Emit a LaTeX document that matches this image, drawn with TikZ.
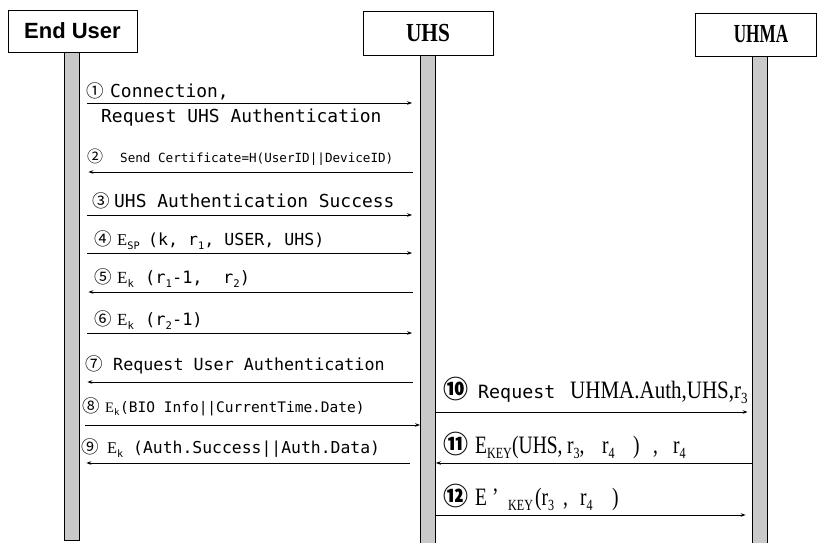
\documentclass[tikz,border=0pt]{standalone}
\usepackage{fontspec}
\usepackage{graphicx}
\setmainfont{Liberation Serif}
\setsansfont{Liberation Sans}
\setmonofont{DejaVu Sans Mono}
\newfontfamily\cjk{Noto Sans CJK KR}
\usetikzlibrary{arrows.meta}

\newcommand\fs[1]{\fontsize{#1}{#1}\selectfont}
% circled step numbers (small and large)
\newcommand\cn[1]{{\cjk\fs{17.5}#1}}
\newcommand\cnB[1]{{\cjk\bfseries\fs{25}#1}}
% fixed-width slot, so each piece starts at a set place
\newcommand\mb[2]{\makebox[#1pt][l]{#2}}
% lowered small index
\newcommand\idx[1]{\raisebox{-0.45ex}{\scalebox{0.62}{#1}}}
% serif E with an index
\newcommand\Enc[1]{{\rmfamily E}\idx{#1}}
% narrow serif pieces
\newcommand\cond[1]{\scalebox{0.78}[1]{#1}}

\begin{document}
\begin{tikzpicture}[x=1pt,y=-1pt,
  actor/.style={draw, line width=0.8pt, fill=white, inner sep=0pt},
  lifebar/.style={draw, line width=0.8pt, fill=black!21, anchor=north,
    minimum width=15pt, inner sep=0pt},
  msg/.style={line width=0.8pt, -{Stealth[length=5pt,width=3.6pt]}},
  lbl/.style={anchor=base west, inner sep=0pt, font=\ttfamily},
  rlbl/.style={anchor=base west, inner sep=0pt, font=\rmfamily\fs{25}}]
\useasboundingbox (0,0) rectangle (817,543);

% lifelines
\node[lifebar, minimum height=488pt] (eubar) at (71.5,52) {};
\node[lifebar, minimum height=488pt] (uhsbar) at (428,55) {};
\node[lifebar, minimum height=490pt] (uhmabar) at (759.5,56) {};

% participants
\node[actor, minimum width=129pt, minimum height=42pt] (eu) at (72.5,31)
  {\sffamily\bfseries\fs{22}End User};
\node[actor, minimum width=130pt, minimum height=44pt] (uhs) at (428,33)
  {\bfseries\fs{26}\scalebox{0.82}[1]{UHS}};
\node[actor, minimum width=121pt, minimum height=43pt] (uhma) at (755.5,34.5)
  {\hspace{11pt}\bfseries\fs{26}\scalebox{0.66}[1]{UHMA}};

% message rows
\coordinate (r1) at (0,103);
\coordinate (r2) at (0,172);
\coordinate (r3) at (0,215);
\coordinate (r4) at (0,253);
\coordinate (r5) at (0,292);
\coordinate (r6) at (0,333);
\coordinate (r7) at (0,382);
\coordinate (r8) at (0,425);
\coordinate (r9) at (0,463);
\coordinate (r10) at (0,412);
\coordinate (r11) at (0,463);
\coordinate (r12) at (0,515);

% End User <-> UHS
\draw[msg, shorten <=8pt, shorten >=8pt] (eubar.east |- r1) -- (uhsbar.west |- r1);
\draw[msg, shorten <=7pt, shorten >=9pt] (uhsbar.west |- r2) -- (eubar.east |- r2);
\draw[msg, shorten <=8pt, shorten >=8pt] (eubar.east |- r3) -- (uhsbar.west |- r3);
\draw[msg, shorten <=8pt, shorten >=8pt] (eubar.east |- r4) -- (uhsbar.west |- r4);
\draw[msg, shorten <=7pt, shorten >=9pt] (uhsbar.west |- r5) -- (eubar.east |- r5);
\draw[msg, shorten <=8pt, shorten >=8pt] (eubar.east |- r6) -- (uhsbar.west |- r6);
\draw[msg, shorten <=7pt, shorten >=8pt] (uhsbar.west |- r7) -- (eubar.east |- r7);
\draw[msg, shorten <=6pt, shorten >=0pt] (eubar.east |- r8) -- (uhsbar.west |- r8);
\draw[msg, shorten <=10pt, shorten >=7pt] (uhsbar.west |- r9) -- (eubar.east |- r9);

% UHS <-> UHMA
\draw[msg, shorten >=4pt] (uhsbar.east |- r10) -- (uhmabar.west |- r10);
\draw[msg] (uhmabar.west |- r11) -- (uhsbar.east |- r11);
\draw[msg, shorten >=6pt] (uhsbar.east |- r12) -- (uhmabar.west |- r12);

% message texts, End User <-> UHS
\node[lbl] (t1a) at (86,97) {\fs{17.9}\mb{24}{\cn{①}}Connection,};
\node[lbl] (t1b) at (101,122) {\fs{17.9}Request UHS Authentication};
\node[lbl] (t2) at (87,162) {\fs{12.6}\mb{33}{{\cjk\fs{16}②}}Send Certificate=H(UserID||DeviceID)};
\node[lbl] (t3) at (92,207) {\fs{17.9}\mb{22}{\cn{③}}UHS Authentication Success};
\node[lbl] (t4) at (94,245) {\fs{16.6}\mb{23}{\cn{④}}\mb{31}{\Enc{SP}}(k, r\idx{1}, USER, UHS)};
\node[lbl] (t5) at (94,283) {\fs{17}\mb{23}{\cn{⑤}}\mb{28}{\Enc{k}}(r\idx{1}-1,\ \ r\idx{2})};
\node[lbl] (t6) at (94,325) {\fs{17}\mb{23}{\cn{⑥}}\mb{28}{\Enc{k}}(r\idx{2}-1)};
\node[lbl] (t7) at (85,370) {\fs{16.7}\mb{28}{\cn{⑦}}Request User Authentication};
\node[lbl] (t8) at (82,412) {\fs{14.5}\mb{23}{\cn{⑧}}\mb{15}{\Enc{k}}(BIO Info||CurrentTime.Date)};
\node[lbl] (t9) at (81,453) {\fs{16.4}\mb{26}{\cn{⑨}}\mb{26}{\Enc{k}}(Auth.Success||Auth.Data)};

% message texts, UHS <-> UHMA
\node[rlbl] (t10) at (443,398) {\mb{35}{\cnB{⑩}}\mb{92}{\ttfamily\fs{18.3}Request}%
  \scalebox{0.84}[1]{UHMA.Auth,UHS,r\idx{3}}};
\node[rlbl] (t11) at (443,453) {\mb{32}{\cnB{⑪}}\mb{37}{\cond{E\idx{KEY}}}%
  \mb{55}{\cond{(UHS,}}\mb{35}{\cond{r\idx{3},}}\mb{31}{\cond{r\idx{4}}}%
  \mb{20}{\cond{)}}\mb{20}{\cond{,}}\cond{r\idx{4}}};
\node[rlbl] (t12) at (443,505) {\mb{32}{\cnB{⑫}}\mb{17}{\cond{E}}\mb{16}{\cond{'}}%
  \mb{27}{\cond{\idx{KEY}}}\mb{28}{\cond{(r\idx{3}}}\mb{17}{\cond{,}}%
  \mb{32}{\cond{r\idx{4}}}\cond{)}};
\end{tikzpicture}
\end{document}
